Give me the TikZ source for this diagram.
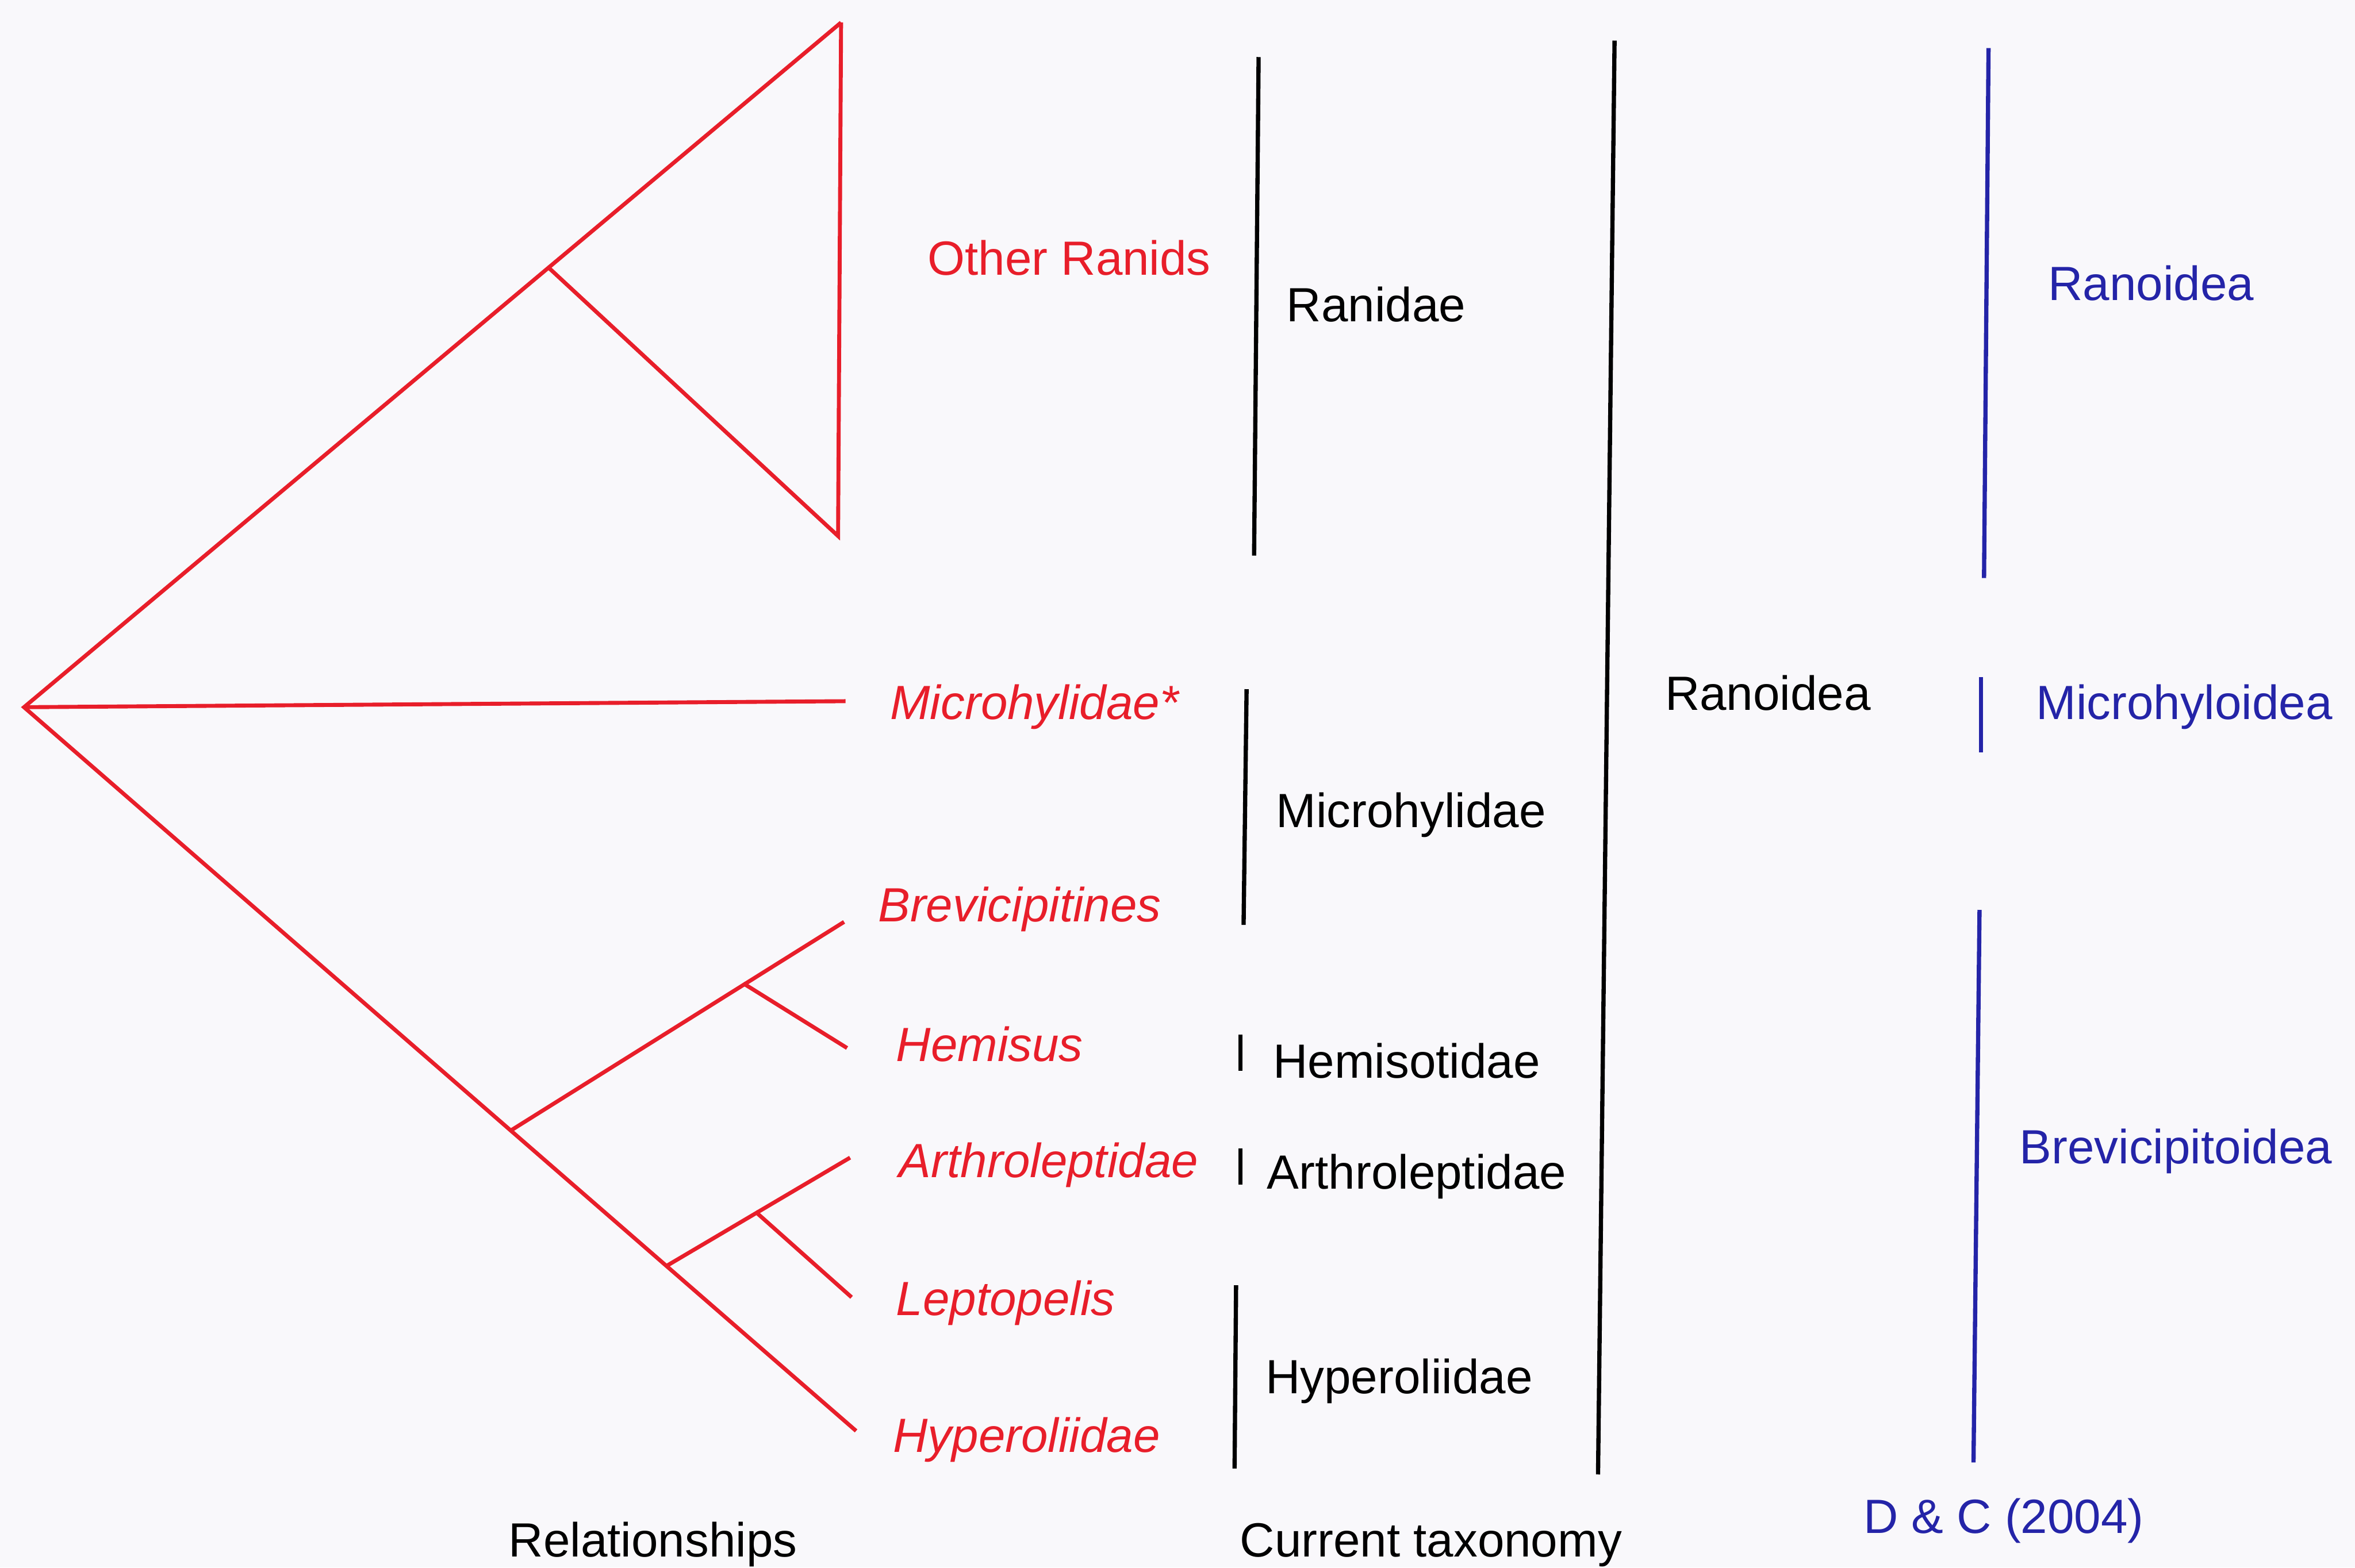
\documentclass[tikz,border=0pt]{standalone}
\usepackage{fontspec}
\setmainfont{Liberation Sans}
\definecolor{treered}{RGB}{232,30,42}
\definecolor{dcblue}{RGB}{36,36,168}
\definecolor{paper}{RGB}{249,248,251}
\tikzset{
  branch/.style={treered, line width=0.75pt},
  taxbar/.style={black, line width=0.8pt},
  dcbar/.style={dcblue, line width=0.8pt},
  lbl/.style={anchor=base west, inner sep=0pt, font=\fontsize{9.1}{11}\selectfont},
  clade/.style={lbl, treered, font=\fontsize{9.1}{11}\selectfont\itshape},
}
\begin{document}
\begin{tikzpicture}[x=0.1mm, y=-0.1mm]
\fill[paper] (0,0) rectangle (1568,1044);
\useasboundingbox (0,0) rectangle (1568,1044);
% relationships
\coordinate (root) at (16,471);
\coordinate (rantop) at (560,15);
\coordinate (ranbot) at (558,357);
\coordinate (ranin) at (365,178);
\coordinate (mictip) at (563,467);
\coordinate (brevj) at (340,753);
\coordinate (brevtip) at (562,614);
\coordinate (hemj) at (495,655);
\coordinate (hemtip) at (564,698);
\coordinate (arthj) at (444,843);
\coordinate (arthtip) at (566,771);
\coordinate (leptj) at (503,807);
\coordinate (lepttip) at (567,864);
\coordinate (hyptip) at (570,953);
\draw[branch] (rantop) -- (root) -- (hyptip);
\draw[branch] (rantop) -- (ranbot) -- (ranin);
\draw[branch] (root) -- (mictip);
\draw[branch] (brevj) -- (brevtip);
\draw[branch] (hemj) -- (hemtip);
\draw[branch] (arthj) -- (arthtip);
\draw[branch] (leptj) -- (lepttip);
\node[lbl, treered] (otherran) at (617,183) {Other Ranids};
\node[clade] (micro) at (592,479) {Microhylidae*};
\node[clade] (brev) at (584,614) {Brevicipitines};
\node[clade] (hemis) at (596,707) {Hemisus};
\node[clade] (arthro) at (598,784) {Arthroleptidae};
\node[clade] (lepto) at (596,876) {Leptopelis};
\node[clade] (hypero) at (594,967) {Hyperoliidae};
\node[lbl] (relat) at (338,1037) {Relationships};
% current taxonomy
\draw[taxbar] (838,38) -- (835,370);
\draw[taxbar] (830,459) -- (828,616);
\draw[taxbar] (826,689) -- (826,713);
\draw[taxbar] (826,765) -- (826,789);
\draw[taxbar] (823,856) -- (822,978);
\draw[taxbar] (1075,27) -- (1064,982);
\node[lbl] (ranidae) at (856,214) {Ranidae};
\node[lbl] (microh) at (849,551) {Microhylidae};
\node[lbl] (hemiso) at (847,718) {Hemisotidae};
\node[lbl] (arthr) at (843,792) {Arthroleptidae};
\node[lbl] (hyperol) at (842,928) {Hyperoliidae};
\node[lbl] (ranoid) at (1108,473) {Ranoidea};
\node[lbl] (current) at (825,1037) {Current taxonomy};
% D & C (2004)
\draw[dcbar] (1324,32) -- (1321,385);
\draw[dcbar] (1319,451) -- (1319,501);
\draw[dcbar] (1318,606) -- (1314,974);
\node[lbl, dcblue] (dcran) at (1363,200) {Ranoidea};
\node[lbl, dcblue] (dcmic) at (1355,479) {Microhyloidea};
\node[lbl, dcblue] (dcbrev) at (1344,775) {Brevicipitoidea};
\node[lbl, dcblue] (dcsrc) at (1240,1021) {D \& C (2004)};
\end{tikzpicture}
\end{document}
